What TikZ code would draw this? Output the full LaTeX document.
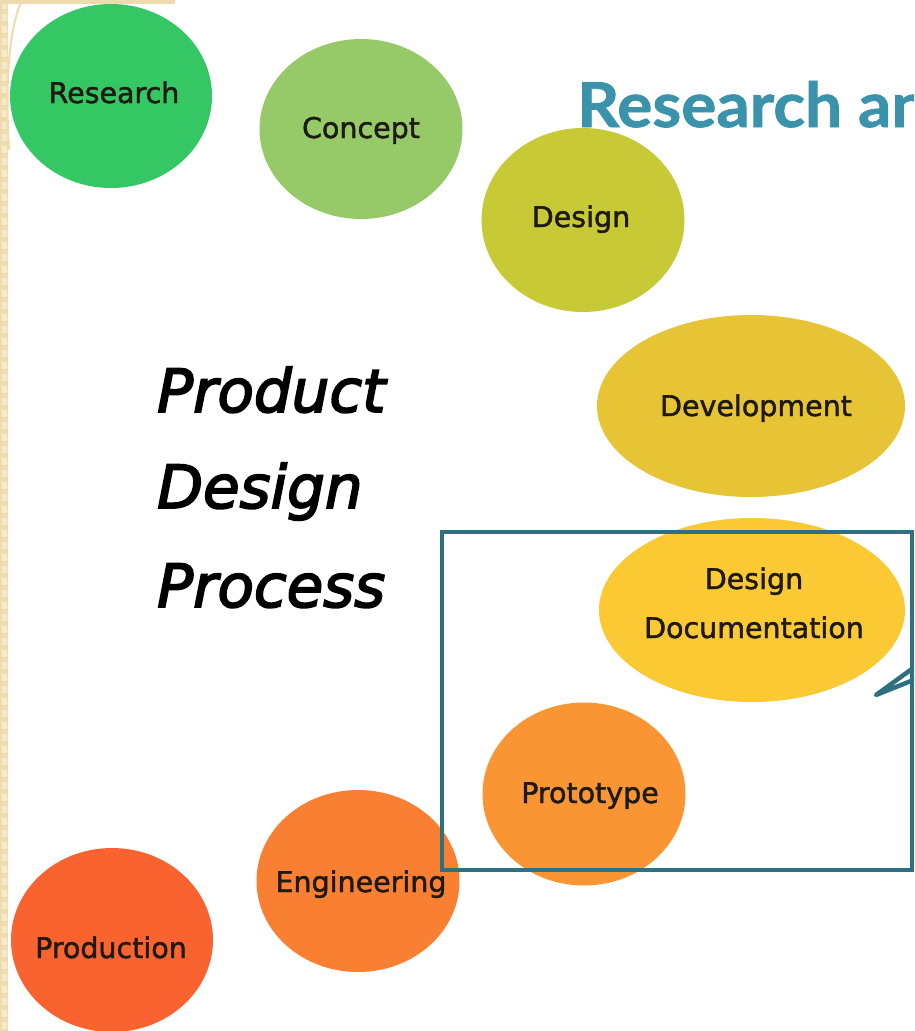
\documentclass[tikz,border=0pt]{standalone}
\usepackage{fontspec}
\setmainfont{DejaVu Sans}
\newfontfamily\lblfont[FakeBold=1.6]{DejaVu Sans}
\newfontfamily\pdpfont[FakeBold=3]{DejaVu Sans}
\newfontfamily\titlefont[FakeBold=1.2]{Lato}
\usetikzlibrary{shapes.geometric}
\definecolor{cResearch}{HTML}{34C764}
\definecolor{cConcept}{HTML}{96C967}
\definecolor{cDesign}{HTML}{C8C936}
\definecolor{cDevel}{HTML}{E6C436}
\definecolor{cDoc}{HTML}{FBC934}
\definecolor{cProto}{HTML}{F99533}
\definecolor{cEng}{HTML}{F97F33}
\definecolor{cProd}{HTML}{F9632F}
\definecolor{titleteal}{HTML}{3A93AA}
\definecolor{boxteal}{HTML}{2E6F80}
\definecolor{beige}{HTML}{EEDCAE}
\definecolor{beigelight}{HTML}{F6EACB}
\definecolor{inktext}{HTML}{1E1A12}
\begin{document}
\begin{tikzpicture}[x=1pt,y=-1pt,
  bub/.style={ellipse, inner sep=0pt, draw=none},
  lbl/.style={anchor=base, inner sep=0pt, text=inktext, font=\lblfont\fontsize{28.5}{34}\selectfont},
  pdp/.style={anchor=base west, inner sep=0pt, text=black, font=\pdpfont\itshape\fontsize{59.5}{70}\selectfont},
  callout/.style={draw=boxteal, line width=4.5pt, line join=round, line cap=round}]
\clip (0,0) rectangle (914,1031);
\fill[white] (0,0) rectangle (914,1031);
% left decorative strip
\fill[beige] (0,0) rectangle (8,1031);
\foreach \k in {0,...,86} {\fill[beigelight] (1.5,{\k*12+2}) rectangle (6.5,{\k*12+9});}
\fill[beige] (0,0) rectangle (175,4);
\draw[beige, line width=2pt] (22,0) .. controls (9,28) and (5,80) .. (9,150);
% ellipses
\node[bub, fill=cResearch, minimum width=202pt, minimum height=184pt] (research) at (111,96) {};
\node[bub, fill=cConcept, minimum width=203pt, minimum height=180pt] (concept) at (361,129) {};
% title
\node[anchor=base west, inner sep=0pt, xscale=1.06, text=titleteal, font=\titlefont\bfseries\fontsize{62}{70}\selectfont] (title) at (577,127) {Research and};
\node[bub, fill=cDesign, minimum width=203pt, minimum height=184pt] (design) at (583,220) {};
\node[bub, fill=cDevel, minimum width=308pt, minimum height=182pt] (devel) at (751,406) {};
\node[bub, fill=cDoc, minimum width=306pt, minimum height=184pt] (doc) at (752,610) {};
\node[bub, fill=cProto, minimum width=203pt, minimum height=183pt] (proto) at (584,794) {};
\node[bub, fill=cEng, minimum width=203pt, minimum height=182pt] (eng) at (358,881) {};
\node[bub, fill=cProd, minimum width=202pt, minimum height=184pt] (prod) at (112,940) {};
% labels
\node[lbl] (lResearch) at (114,103) {Research};
\node[lbl] (lConcept) at (361,138) {Concept};
\node[lbl] (lDesign) at (581,227) {Design};
\node[lbl] (lDevel) at (756,416) {Development};
\node[lbl] (lDoc1) at (754,589) {Design};
\node[lbl] (lDoc2) at (754,638) {Documentation};
\node[lbl] (lProto) at (590,803) {Prototype};
\node[lbl] (lEng) at (361,892) {Engineering};
\node[lbl] (lProd) at (111,958) {Production};
% side text
\node[pdp] (pdp1) at (157,412) {Product};
\node[pdp] (pdp2) at (157,508) {Design};
\node[pdp] (pdp3) at (157,607) {Process};
% highlight box and callout
\node[draw=boxteal, line width=4.5pt, inner sep=0pt, minimum width=470pt, minimum height=338pt] (hbox) at (677,701) {};
\coordinate (cA) at (916,666);
\coordinate (cTip) at (876,695);
\coordinate (cB) at (916,679);
\draw[callout] (cA) -- (cTip) -- (cB);
\end{tikzpicture}
\end{document}
